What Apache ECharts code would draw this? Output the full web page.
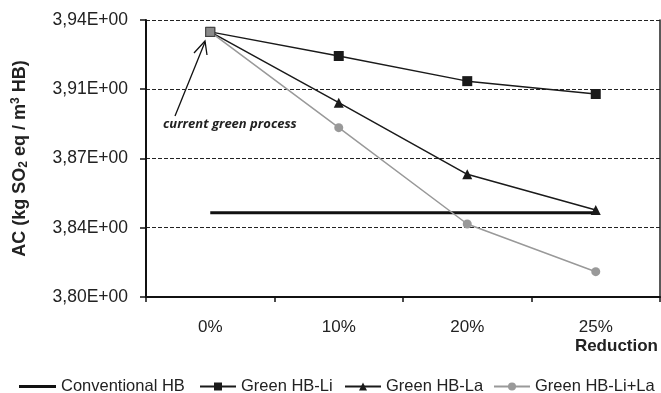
<!DOCTYPE html>
<html>
<head>
<meta charset="utf-8">
<script src="https://cdn.jsdelivr.net/npm/echarts@6/dist/echarts.min.js"></script>
<style>html,body{margin:0;padding:0;background:#fff;}#c{width:661px;height:393px;}</style>
</head>
<body>
<div id="c"></div>
<script>
const categories = ['0%', '10%', '20%', '25%'];
const conventionalHB = [3.8426, null, null, 3.8426];
const greenLi = [3.934, 3.9218, 3.9091, 3.9026];
const greenLa = [3.934, 3.8982, 3.862, 3.844];
const greenLiLa = [3.934, 3.8856, 3.8369, 3.8128];
const yTicks = [3.80, 3.835, 3.87, 3.905, 3.94];

const chart = echarts.init(document.getElementById('c'), null, {renderer: 'canvas'});
const font = 'Liberation Sans';
const txt = '#222';

function legend(name, left, extra) {
  return Object.assign({
    data: [name], left: left, top: 373, itemWidth: 36, itemHeight: 10, itemGap: 5,
    textStyle: {fontFamily: font, fontSize: 16.5, color: txt}, selectedMode: false
  }, extra || {});
}

chart.setOption({
  animation: false,
  backgroundColor: '#fff',
  grid: {left: 146, right: 1, top: 20, bottom: 96, containLabel: false},
  legend: [
    legend('Conventional HB', 14, {data: [{name: 'Conventional HB', icon: 'rect'}], itemHeight: 3, itemWidth: 37}),
    legend('Green HB-Li', 194),
    legend('Green HB-La', 339),
    legend('Green HB-Li+La', 488)
  ],
  xAxis: {
    type: 'category', data: categories, boundaryGap: true,
    axisLine: {lineStyle: {color: '#111', width: 2}},
    axisTick: {show: true, length: 5, lineStyle: {color: '#111', width: 1.5}},
    axisLabel: {fontFamily: font, fontSize: 17, color: txt, margin: 22},
    splitLine: {show: false}
  },
  yAxis: [{
    type: 'value', min: yTicks[0], max: yTicks[yTicks.length - 1], interval: yTicks[1] - yTicks[0],
    name: 'AC (kg SO{sub|2} eq / m{sup|3} HB)', nameLocation: 'middle', nameGap: 116,
    nameTextStyle: {
      fontFamily: font, fontSize: 18, fontWeight: 'bold', color: txt,
      rich: {
        sub: {fontFamily: font, fontSize: 12, fontWeight: 'bold', color: txt, verticalAlign: 'bottom', padding: [8, 0, 0, 0]},
        sup: {fontFamily: font, fontSize: 12, fontWeight: 'bold', color: txt, verticalAlign: 'top', padding: [0, 0, 8, 0]}
      }
    },
    axisLine: {show: true, lineStyle: {color: '#111', width: 2}},
    axisTick: {show: true, length: 6, lineStyle: {color: '#111', width: 1.5}},
    axisLabel: {
      fontFamily: font, fontSize: 17.5, color: txt, margin: 18,
      formatter: v => (Math.round(v * 100 + 1e-6) / 100).toFixed(2).replace('.', ',') + 'E+00'
    },
    splitLine: {show: true, lineStyle: {color: '#222', width: 1, type: [4, 2]}}
  }, {
    type: 'value', position: 'right', min: yTicks[0], max: yTicks[yTicks.length - 1],
    axisLine: {show: true, lineStyle: {color: '#222', width: 1.5}},
    axisTick: {show: false}, axisLabel: {show: false}, splitLine: {show: false}
  }],
  series: [
    {
      name: 'Conventional HB', type: 'line', data: conventionalHB, connectNulls: true,
      symbol: 'none', lineStyle: {color: '#111', width: 3}, itemStyle: {color: '#111'}, z: 2
    },
    {
      name: 'Green HB-Li', type: 'line', data: greenLi, symbol: 'rect', symbolSize: 10,
      lineStyle: {color: '#1a1a1a', width: 1.5}, itemStyle: {color: '#1a1a1a'}, z: 3
    },
    {
      name: 'Green HB-La', type: 'line', data: greenLa, symbol: 'triangle', symbolSize: 10,
      lineStyle: {color: '#1a1a1a', width: 1.5}, itemStyle: {color: '#1a1a1a'}, z: 3
    },
    {
      name: 'Green HB-Li+La', type: 'line', symbol: 'circle', symbolSize: 9,
      data: greenLiLa.map((v, i) => i === 0 ? {value: v, symbol: 'rect', symbolSize: 9, itemStyle: {color: '#8a8a8a', borderColor: '#444', borderWidth: 1}} : v),
      lineStyle: {color: '#999', width: 1.5}, itemStyle: {color: '#999'}, z: 4
    }
  ],
  graphic: [
    {type: 'text', right: 3, top: 338,
     style: {text: 'Reduction', fontFamily: font, fontSize: 17, fontWeight: 'bold', fill: txt}},
    {type: 'text', left: 163, top: 118,
     style: {text: 'current green process', fontFamily: 'Open Sans', fontSize: 13, fontWeight: 'bold', fontStyle: 'italic', fill: txt}},
    {type: 'line', shape: {x1: 175, y1: 116, x2: 205, y2: 42}, style: {stroke: '#111', lineWidth: 1.3}},
    {type: 'polyline', shape: {points: [[194, 53], [205, 41], [207, 55]]}, style: {stroke: '#111', lineWidth: 1.3, fill: null}}
  ]
});
</script>
</body>
</html>
